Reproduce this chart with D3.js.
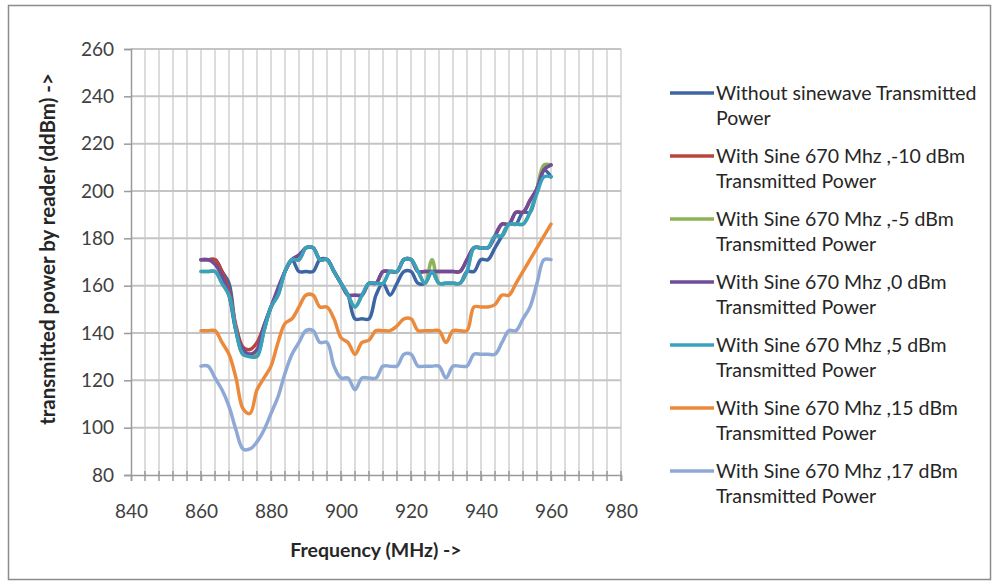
<!DOCTYPE html>
<html><head><meta charset="utf-8">
<script src="https://cdn.jsdelivr.net/npm/d3@7"></script>
<style>body{margin:0;background:#fff;} text{font-family:Lato,"Open Sans",sans-serif;}</style>
</head><body>
<svg id="c" width="997" height="585"></svg>
<script>
const freq = [860,862,864,866,868,870,872,874,876,878,880,882,884,886,888,890,892,894,896,898,900,902,904,906,908,910,912,914,916,918,920,922,924,926,928,930,932,934,936,938,940,942,944,946,948,950,952,954,956,958,960];
const seriesNames = ["Without sinewave Transmitted Power","With Sine 670 Mhz ,-10 dBm Transmitted Power","With Sine 670 Mhz ,-5 dBm Transmitted Power","With Sine 670 Mhz ,0 dBm Transmitted Power","With Sine 670 Mhz ,5 dBm Transmitted Power","With Sine 670 Mhz ,15 dBm Transmitted Power","With Sine 670 Mhz ,17 dBm Transmitted Power"];
const withoutSine = [171,171,171,166,161,141,131,131,131,141,151,156,166,171,166,166,166,171,171,166,161,156,146,146,146,156,161,156,161,166,166,161,161,166,161,161,161,161,166,166,171,171,176,181,186,186,191,191,201,209,206];
const sineM10 = [171,171,171,166,158,143,134,133,136,143,151,158,166,171,171,176,176,171,171,166,161,156,156,156,161,161,166,166,166,171,171,166,166,166,166,166,166,166,171,176,176,176,181,186,186,191,191,196,201,209,211];
const sineM5 = [166,166,166,161,156,141,131,131,131,141,151,156,166,171,171,176,176,171,171,166,161,156,151,156,161,161,161,166,166,171,171,166,161,171,161,161,161,161,166,176,176,176,181,181,186,186,186,191,201,211,211];
const sine0 = [171,171,169,164,156,141,133,131,133,143,151,159,166,171,173,176,176,171,171,166,161,156,156,156,161,161,166,166,166,171,171,166,166,166,166,166,166,166,171,176,176,176,181,186,186,191,191,196,201,209,211];
const sine5 = [166,166,166,161,156,141,131,130,130,141,151,156,166,171,171,176,176,171,171,166,161,156,151,156,161,161,161,166,166,171,171,166,161,166,161,161,161,161,166,176,176,176,181,181,186,186,186,191,199,206,206];
const sine15 = [141,141,141,136,131,121,108,106,116,121,126,136,144,146,151,156,156,151,151,146,138,136,131,136,137,141,141,141,143,146,146,141,141,141,141,136,141,141,141,151,151,151,152,156,156,161,166,171,176,181,186];
const sine17 = [126,126,121,116,109,99,91,91,94,99,106,113,123,131,136,141,141,136,136,126,121,121,116,121,121,121,126,126,126,131,131,126,126,126,126,121,126,126,126,131,131,131,131,136,141,141,146,151,161,171,171];
const colors = ["#3C66A3","#B9433E","#8EB356","#6F4D98","#38A2BE","#EC8A3C","#8FA9D6"];
const yTicks = [80,100,120,140,160,180,200,220,240,260];
const xTicks = [840,860,880,900,920,940,960,980];
const allSeries = [withoutSine, sineM10, sineM5, sine0, sine5, sine15, sine17];

const svg = d3.select("#c");
svg.append("rect").attr("x",8.5).attr("y",5.5).attr("width",982).attr("height",574)
  .attr("fill","#fff").attr("stroke","#8c8c8c").attr("stroke-width",1.5);

const x = d3.scaleLinear().domain([840,980]).range([131,621]);
const y = d3.scaleLinear().domain([80,260]).range([475,49]);

// vertical gridlines every 4 MHz
const vGrid = d3.range(844,981,4);
svg.append("g").selectAll("line").data(vGrid).join("line")
  .attr("x1",d=>x(d)).attr("x2",d=>x(d)).attr("y1",y(260)).attr("y2",y(80))
  .attr("stroke","#dcdcdc").attr("stroke-width",2);
// horizontal gridlines
svg.append("g").selectAll("line").data(yTicks.slice(1)).join("line")
  .attr("x1",x(840)).attr("x2",x(980)).attr("y1",d=>y(d)).attr("y2",d=>y(d))
  .attr("stroke","#c4c4c4").attr("stroke-width",2);

// axes
const yAxis = d3.axisLeft(y).tickValues(yTicks).tickSize(7).tickPadding(10);
const gy = svg.append("g").attr("transform",`translate(${x(840)},0)`).call(yAxis);
const xAxis = d3.axisBottom(x).tickValues(xTicks).tickSize(6).tickPadding(24);
const gx = svg.append("g").attr("transform",`translate(0,${y(80)})`).call(xAxis);
[gy,gx].forEach(g=>{
  g.select(".domain").attr("stroke","#9a9a9a").attr("stroke-width",1.5);
  g.selectAll(".tick line").attr("stroke","#9a9a9a").attr("stroke-width",1.5);
  g.selectAll("text").attr("fill","#404040").style("font-size","19px").style("font-family","Lato,sans-serif");
});
// minor ticks on x axis
svg.append("g").selectAll("line").data(vGrid).join("line")
  .attr("x1",d=>x(d)).attr("x2",d=>x(d)).attr("y1",y(80)-4).attr("y2",y(80)+6)
  .attr("stroke","#9a9a9a").attr("stroke-width",1.5);

// series
const line = d3.line().x((d,i)=>x(freq[i])).y(d=>y(d)).curve(d3.curveCatmullRom.alpha(0.5));
allSeries.forEach((s,k)=>{
  svg.append("path").datum(s).attr("d",line).attr("fill","none")
    .attr("stroke",colors[k]).attr("stroke-width",3.5).attr("stroke-linejoin","round").attr("stroke-linecap","round");
});

// axis titles
svg.append("text").attr("x",376).attr("y",557).attr("text-anchor","middle")
  .attr("font-weight","bold").attr("font-size","19.5px").attr("fill","#262626").text("Frequency (MHz) ->");
svg.append("text").attr("transform","translate(55,249) rotate(-90)").attr("text-anchor","middle")
  .attr("font-weight","bold").attr("font-size","20.5px").attr("fill","#262626").text("transmitted power by reader (ddBm) ->");

// legend
const leg = svg.append("g");
seriesNames.forEach((name,k)=>{
  const cy = 93 + k*63;
  leg.append("line").attr("x1",670).attr("x2",714).attr("y1",cy).attr("y2",cy)
    .attr("stroke",colors[k]).attr("stroke-width",3.5);
  const idx = name.indexOf("Transmitted Power");
  let l1, l2;
  if (k===0) { l1 = "Without sinewave Transmitted"; l2 = "Power"; }
  else { l1 = name.slice(0,idx).trim(); l2 = "Transmitted Power"; }
  const t = leg.append("text").attr("x",716).attr("y",cy+7).attr("font-size","19.5px").attr("fill","#262626");
  t.append("tspan").attr("x",716).text(l1);
  t.append("tspan").attr("x",716).attr("dy",25).text(l2);
});
</script>
</body></html>
